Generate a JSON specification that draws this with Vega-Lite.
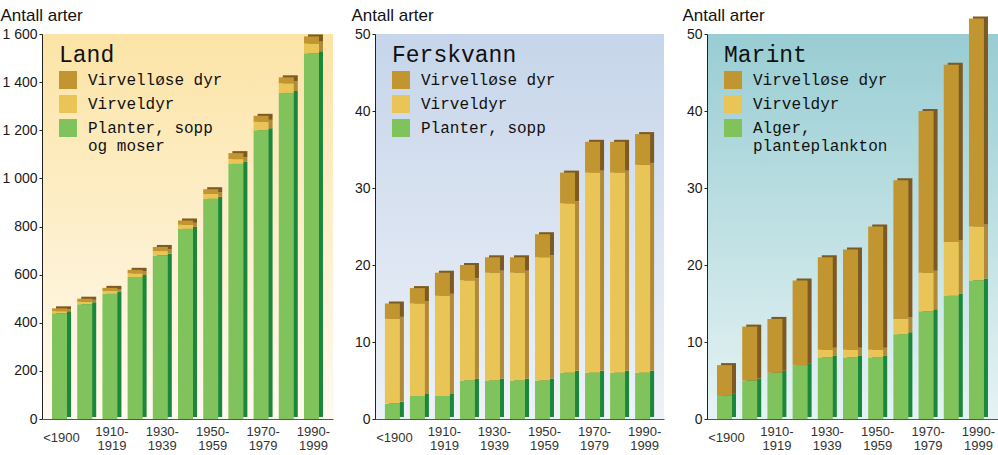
{
  "$schema": "https://vega.github.io/schema/vega-lite/v6.json",
  "padding": {"left": 0, "top": 6, "right": 0, "bottom": 0},
  "spacing": 18,
  "resolve": {"scale": {"color": "independent"}, "legend": {"color": "independent"}},
  "config": {
    "font": "Liberation Sans",
    "view": {"stroke": null},
    "axisX": {
      "title": null, "ticks": false, "labelAngle": 0, "labelFontSize": 13, "labelColor": "#333333",
      "labelBaseline": "middle", "labelLineHeight": 14, "labelOverlap": false,
      "labelPadding": {"condition": {"test": "datum.value == '<1900'", "value": 18}, "value": 12},
      "domainColor": "#555555", "grid": false,
      "labelExpr": "datum.value == '<1900' ? '<1900' : (indexof(['1910-1919','1930-1939','1950-1959','1970-1979','1990-1999'], datum.value) >= 0 ? [slice(datum.value,0,5), slice(datum.value,5)] : '')"
    },
    "axisY": {
      "titleAngle": 0, "titleAlign": "left", "titleBaseline": "middle", "titleY": -19,
      "titleFontSize": 17, "titleFontWeight": "normal", "titleColor": "#111111",
      "labelFontSize": 14, "labelColor": "#1a1a1a", "tickSize": 3, "labelPadding": 2,
      "tickColor": "#222222", "domainColor": "#222222", "grid": false
    },
    "legend": {
      "titleFont": "Liberation Mono", "titleFontSize": 23, "titleFontWeight": "normal", "titleColor": "#111111", "titlePadding": 4,
      "labelFont": "Liberation Mono", "labelFontSize": 16, "labelColor": "#111111", "labelOffset": 11, "labelLimit": 400,
      "symbolType": "square", "symbolSize": 324, "symbolStrokeWidth": 0, "symbolOpacity": 1, "rowPadding": 6, "padding": 0
    }
  },
  "datasets": {
    "land": [
      {"periode": "<1900", "gruppe": "Planter, sopp og moser", "antall": 440},
      {"periode": "<1900", "gruppe": "Virveldyr", "antall": 8},
      {"periode": "<1900", "gruppe": "Virvelløse dyr", "antall": 12},
      {"periode": "1900-1909", "gruppe": "Planter, sopp og moser", "antall": 477},
      {"periode": "1900-1909", "gruppe": "Virveldyr", "antall": 10},
      {"periode": "1900-1909", "gruppe": "Virvelløse dyr", "antall": 13},
      {"periode": "1910-1919", "gruppe": "Planter, sopp og moser", "antall": 520},
      {"periode": "1910-1919", "gruppe": "Virveldyr", "antall": 12},
      {"periode": "1910-1919", "gruppe": "Virvelløse dyr", "antall": 13},
      {"periode": "1920-1929", "gruppe": "Planter, sopp og moser", "antall": 590},
      {"periode": "1920-1929", "gruppe": "Virveldyr", "antall": 15},
      {"periode": "1920-1929", "gruppe": "Virvelløse dyr", "antall": 15},
      {"periode": "1930-1939", "gruppe": "Planter, sopp og moser", "antall": 680},
      {"periode": "1930-1939", "gruppe": "Virveldyr", "antall": 18},
      {"periode": "1930-1939", "gruppe": "Virvelløse dyr", "antall": 17},
      {"periode": "1940-1949", "gruppe": "Planter, sopp og moser", "antall": 790},
      {"periode": "1940-1949", "gruppe": "Virveldyr", "antall": 17},
      {"periode": "1940-1949", "gruppe": "Virvelløse dyr", "antall": 18},
      {"periode": "1950-1959", "gruppe": "Planter, sopp og moser", "antall": 915},
      {"periode": "1950-1959", "gruppe": "Virveldyr", "antall": 20},
      {"periode": "1950-1959", "gruppe": "Virvelløse dyr", "antall": 20},
      {"periode": "1960-1969", "gruppe": "Planter, sopp og moser", "antall": 1060},
      {"periode": "1960-1969", "gruppe": "Virveldyr", "antall": 20},
      {"periode": "1960-1969", "gruppe": "Virvelløse dyr", "antall": 25},
      {"periode": "1970-1979", "gruppe": "Planter, sopp og moser", "antall": 1200},
      {"periode": "1970-1979", "gruppe": "Virveldyr", "antall": 35},
      {"periode": "1970-1979", "gruppe": "Virvelløse dyr", "antall": 25},
      {"periode": "1980-1989", "gruppe": "Planter, sopp og moser", "antall": 1355},
      {"periode": "1980-1989", "gruppe": "Virveldyr", "antall": 40},
      {"periode": "1980-1989", "gruppe": "Virvelløse dyr", "antall": 25},
      {"periode": "1990-1999", "gruppe": "Planter, sopp og moser", "antall": 1520},
      {"periode": "1990-1999", "gruppe": "Virveldyr", "antall": 40},
      {"periode": "1990-1999", "gruppe": "Virvelløse dyr", "antall": 30}
    ],
    "ferskvann": [
      {"periode": "<1900", "gruppe": "Planter, sopp", "antall": 2},
      {"periode": "<1900", "gruppe": "Virveldyr", "antall": 11},
      {"periode": "<1900", "gruppe": "Virvelløse dyr", "antall": 2},
      {"periode": "1900-1909", "gruppe": "Planter, sopp", "antall": 3},
      {"periode": "1900-1909", "gruppe": "Virveldyr", "antall": 12},
      {"periode": "1900-1909", "gruppe": "Virvelløse dyr", "antall": 2},
      {"periode": "1910-1919", "gruppe": "Planter, sopp", "antall": 3},
      {"periode": "1910-1919", "gruppe": "Virveldyr", "antall": 13},
      {"periode": "1910-1919", "gruppe": "Virvelløse dyr", "antall": 3},
      {"periode": "1920-1929", "gruppe": "Planter, sopp", "antall": 5},
      {"periode": "1920-1929", "gruppe": "Virveldyr", "antall": 13},
      {"periode": "1920-1929", "gruppe": "Virvelløse dyr", "antall": 2},
      {"periode": "1930-1939", "gruppe": "Planter, sopp", "antall": 5},
      {"periode": "1930-1939", "gruppe": "Virveldyr", "antall": 14},
      {"periode": "1930-1939", "gruppe": "Virvelløse dyr", "antall": 2},
      {"periode": "1940-1949", "gruppe": "Planter, sopp", "antall": 5},
      {"periode": "1940-1949", "gruppe": "Virveldyr", "antall": 14},
      {"periode": "1940-1949", "gruppe": "Virvelløse dyr", "antall": 2},
      {"periode": "1950-1959", "gruppe": "Planter, sopp", "antall": 5},
      {"periode": "1950-1959", "gruppe": "Virveldyr", "antall": 16},
      {"periode": "1950-1959", "gruppe": "Virvelløse dyr", "antall": 3},
      {"periode": "1960-1969", "gruppe": "Planter, sopp", "antall": 6},
      {"periode": "1960-1969", "gruppe": "Virveldyr", "antall": 22},
      {"periode": "1960-1969", "gruppe": "Virvelløse dyr", "antall": 4},
      {"periode": "1970-1979", "gruppe": "Planter, sopp", "antall": 6},
      {"periode": "1970-1979", "gruppe": "Virveldyr", "antall": 26},
      {"periode": "1970-1979", "gruppe": "Virvelløse dyr", "antall": 4},
      {"periode": "1980-1989", "gruppe": "Planter, sopp", "antall": 6},
      {"periode": "1980-1989", "gruppe": "Virveldyr", "antall": 26},
      {"periode": "1980-1989", "gruppe": "Virvelløse dyr", "antall": 4},
      {"periode": "1990-1999", "gruppe": "Planter, sopp", "antall": 6},
      {"periode": "1990-1999", "gruppe": "Virveldyr", "antall": 27},
      {"periode": "1990-1999", "gruppe": "Virvelløse dyr", "antall": 4}
    ],
    "marint": [
      {"periode": "<1900", "gruppe": "Alger, planteplankton", "antall": 3},
      {"periode": "<1900", "gruppe": "Virveldyr", "antall": 0},
      {"periode": "<1900", "gruppe": "Virvelløse dyr", "antall": 4},
      {"periode": "1900-1909", "gruppe": "Alger, planteplankton", "antall": 5},
      {"periode": "1900-1909", "gruppe": "Virveldyr", "antall": 0},
      {"periode": "1900-1909", "gruppe": "Virvelløse dyr", "antall": 7},
      {"periode": "1910-1919", "gruppe": "Alger, planteplankton", "antall": 6},
      {"periode": "1910-1919", "gruppe": "Virveldyr", "antall": 0},
      {"periode": "1910-1919", "gruppe": "Virvelløse dyr", "antall": 7},
      {"periode": "1920-1929", "gruppe": "Alger, planteplankton", "antall": 7},
      {"periode": "1920-1929", "gruppe": "Virveldyr", "antall": 0},
      {"periode": "1920-1929", "gruppe": "Virvelløse dyr", "antall": 11},
      {"periode": "1930-1939", "gruppe": "Alger, planteplankton", "antall": 8},
      {"periode": "1930-1939", "gruppe": "Virveldyr", "antall": 1},
      {"periode": "1930-1939", "gruppe": "Virvelløse dyr", "antall": 12},
      {"periode": "1940-1949", "gruppe": "Alger, planteplankton", "antall": 8},
      {"periode": "1940-1949", "gruppe": "Virveldyr", "antall": 1},
      {"periode": "1940-1949", "gruppe": "Virvelløse dyr", "antall": 13},
      {"periode": "1950-1959", "gruppe": "Alger, planteplankton", "antall": 8},
      {"periode": "1950-1959", "gruppe": "Virveldyr", "antall": 1},
      {"periode": "1950-1959", "gruppe": "Virvelløse dyr", "antall": 16},
      {"periode": "1960-1969", "gruppe": "Alger, planteplankton", "antall": 11},
      {"periode": "1960-1969", "gruppe": "Virveldyr", "antall": 2},
      {"periode": "1960-1969", "gruppe": "Virvelløse dyr", "antall": 18},
      {"periode": "1970-1979", "gruppe": "Alger, planteplankton", "antall": 14},
      {"periode": "1970-1979", "gruppe": "Virveldyr", "antall": 5},
      {"periode": "1970-1979", "gruppe": "Virvelløse dyr", "antall": 21},
      {"periode": "1980-1989", "gruppe": "Alger, planteplankton", "antall": 16},
      {"periode": "1980-1989", "gruppe": "Virveldyr", "antall": 7},
      {"periode": "1980-1989", "gruppe": "Virvelløse dyr", "antall": 23},
      {"periode": "1990-1999", "gruppe": "Alger, planteplankton", "antall": 18},
      {"periode": "1990-1999", "gruppe": "Virveldyr", "antall": 7},
      {"periode": "1990-1999", "gruppe": "Virvelløse dyr", "antall": 27}
    ]
  },
  "hconcat": [
    {
      "width": 291, "height": 385,
      "data": {"name": "land"},
      "view": {"stroke": null, "fill": {"gradient": "linear", "x1": 0, "y1": 0, "x2": 0, "y2": 1, "stops": [{"offset": 0, "color": "#fce4a6"}, {"offset": 1, "color": "#fffaf0"}]}},
      "resolve": {"scale": {"color": "independent"}, "legend": {"color": "independent"}},
      "encoding": {
        "x": {"field": "periode", "type": "nominal", "sort": ["<1900","1900-1909","1910-1919","1920-1929","1930-1939","1940-1949","1950-1959","1960-1969","1970-1979","1980-1989","1990-1999"], "scale": {"paddingInner": 0.25, "paddingOuter": 0.4}},
        "y": {"field": "antall", "type": "quantitative", "stack": "zero", "scale": {"domain": [0, 1600], "nice": false}, "axis": {"title": "Antall arter", "titleX": -42, "values": [0,200,400,600,800,1000,1200,1400,1600], "labelExpr": "replace(format(datum.value, ','), ',', ' ')"}},
        "order": {"field": "gruppe", "sort": "ascending"}
      },
      "layer": [
        {"mark": {"type": "bar", "width": 15, "xOffset": 2, "yOffset": -2},
         "encoding": {"color": {"field": "gruppe", "type": "nominal", "scale": {"domain": ["Virvelløse dyr", "Virveldyr", "Planter, sopp og moser"], "range": ["#7d5a22", "#b08a38", "#1a873c"]}, "legend": null}}},
        {"mark": {"type": "bar", "width": 15, "xOffset": -2},
         "encoding": {"color": {"field": "gruppe", "type": "nominal", "scale": {"domain": ["Virvelløse dyr", "Virveldyr", "Planter, sopp og moser"], "range": ["#c1952f", "#e8c556", "#80c35d"]},
           "legend": {"title": "Land", "orient": "none", "legendX": 17, "legendY": 10, "labelExpr": "datum.label == 'Planter, sopp og moser' ? ['Planter, sopp', 'og moser'] : datum.label"}}}}
      ]
    },
    {
      "width": 289, "height": 385,
      "data": {"name": "ferskvann"},
      "view": {"stroke": null, "fill": {"gradient": "linear", "x1": 0, "y1": 0, "x2": 0, "y2": 1, "stops": [{"offset": 0, "color": "#c6d5ea"}, {"offset": 1, "color": "#eef2f8"}]}},
      "resolve": {"scale": {"color": "independent"}, "legend": {"color": "independent"}},
      "encoding": {
        "x": {"field": "periode", "type": "nominal", "sort": ["<1900","1900-1909","1910-1919","1920-1929","1930-1939","1940-1949","1950-1959","1960-1969","1970-1979","1980-1989","1990-1999"], "scale": {"paddingInner": 0.25, "paddingOuter": 0.4}},
        "y": {"field": "antall", "type": "quantitative", "stack": "zero", "scale": {"domain": [0, 50], "nice": false}, "axis": {"title": "Antall arter", "titleX": -24, "values": [0,10,20,30,40,50]}},
        "order": {"field": "gruppe", "sort": "ascending"}
      },
      "layer": [
        {"mark": {"type": "bar", "width": 15, "xOffset": 2, "yOffset": -2},
         "encoding": {"color": {"field": "gruppe", "type": "nominal", "scale": {"domain": ["Virvelløse dyr", "Virveldyr", "Planter, sopp"], "range": ["#7d5a22", "#b08a38", "#1a873c"]}, "legend": null}}},
        {"mark": {"type": "bar", "width": 15, "xOffset": -2},
         "encoding": {"color": {"field": "gruppe", "type": "nominal", "scale": {"domain": ["Virvelløse dyr", "Virveldyr", "Planter, sopp"], "range": ["#c1952f", "#e8c556", "#80c35d"]},
           "legend": {"title": "Ferskvann", "orient": "none", "legendX": 17, "legendY": 10}}}}
      ]
    },
    {
      "width": 291, "height": 385,
      "data": {"name": "marint"},
      "view": {"stroke": null, "fill": {"gradient": "linear", "x1": 0, "y1": 0, "x2": 0, "y2": 1, "stops": [{"offset": 0, "color": "#98cdd3"}, {"offset": 1, "color": "#e6f3f4"}]}},
      "resolve": {"scale": {"color": "independent"}, "legend": {"color": "independent"}},
      "encoding": {
        "x": {"field": "periode", "type": "nominal", "sort": ["<1900","1900-1909","1910-1919","1920-1929","1930-1939","1940-1949","1950-1959","1960-1969","1970-1979","1980-1989","1990-1999"], "scale": {"paddingInner": 0.25, "paddingOuter": 0.4}},
        "y": {"field": "antall", "type": "quantitative", "stack": "zero", "scale": {"domain": [0, 50], "nice": false}, "axis": {"title": "Antall arter", "titleX": -25, "values": [0,10,20,30,40,50]}},
        "order": {"field": "gruppe", "sort": "ascending"}
      },
      "layer": [
        {"mark": {"type": "bar", "width": 15, "xOffset": 2, "yOffset": -2},
         "encoding": {"color": {"field": "gruppe", "type": "nominal", "scale": {"domain": ["Virvelløse dyr", "Virveldyr", "Alger, planteplankton"], "range": ["#7d5a22", "#b08a38", "#1a873c"]}, "legend": null}}},
        {"mark": {"type": "bar", "width": 15, "xOffset": -2},
         "encoding": {"color": {"field": "gruppe", "type": "nominal", "scale": {"domain": ["Virvelløse dyr", "Virveldyr", "Alger, planteplankton"], "range": ["#c1952f", "#e8c556", "#80c35d"]},
           "legend": {"title": "Marint", "orient": "none", "legendX": 17, "legendY": 10, "labelExpr": "datum.label == 'Alger, planteplankton' ? ['Alger,', 'planteplankton'] : datum.label"}}}}
      ]
    }
  ]
}
